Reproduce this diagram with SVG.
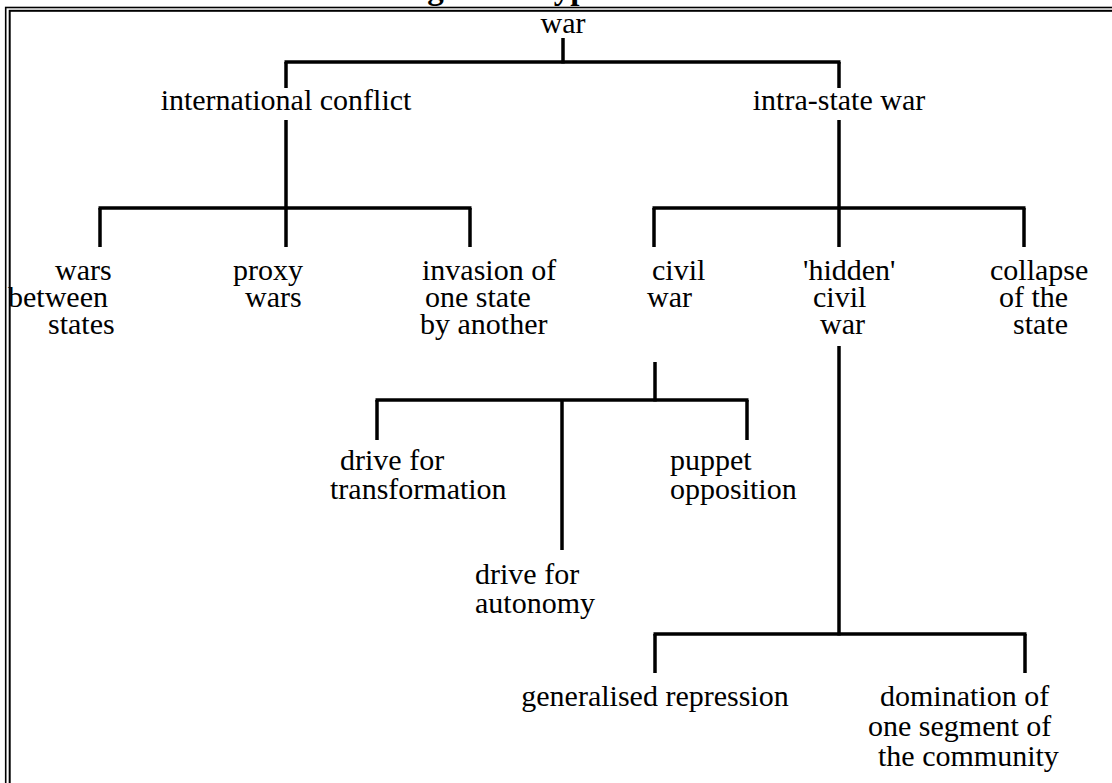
<svg xmlns="http://www.w3.org/2000/svg" width="1112" height="783" viewBox="0 0 1112 783">
<style>
text{font-family:"Liberation Serif","Times New Roman",serif;font-size:30px;fill:#000}
.title{font-weight:bold;font-size:33px}
.c{text-anchor:middle}
#connectors line{stroke:#000;stroke-width:3.5;stroke-linecap:butt}
.frame{fill:none;stroke:#000}
</style>
<rect width="1112" height="783" fill="#fff"/>
<text class="title" x="398" y="-1">Figure 1: Types of Conflict</text>
<rect class="frame" x="5.7" y="7.5" width="1200" height="900" stroke-width="1.6"/>
<rect class="frame" x="9.7" y="10.8" width="1200" height="900" stroke-width="2"/>
<g id="connectors">
<line x1="563" y1="38" x2="563" y2="63.5"/>
<line x1="284.5" y1="62" x2="840.5" y2="62"/>
<line x1="286" y1="62" x2="286" y2="88"/>
<line x1="839" y1="62" x2="839" y2="88"/>
<line x1="286" y1="120" x2="286" y2="208"/>
<line x1="98.5" y1="208" x2="471.5" y2="208"/>
<line x1="100" y1="208" x2="100" y2="247"/>
<line x1="286" y1="208" x2="286" y2="247"/>
<line x1="470" y1="208" x2="470" y2="247"/>
<line x1="839" y1="120" x2="839" y2="208"/>
<line x1="652.5" y1="208" x2="1025.5" y2="208"/>
<line x1="654" y1="208" x2="654" y2="247"/>
<line x1="839" y1="208" x2="839" y2="247"/>
<line x1="1024" y1="208" x2="1024" y2="247"/>
<line x1="655" y1="362" x2="655" y2="401.5"/>
<line x1="375.5" y1="400" x2="748.5" y2="400"/>
<line x1="377" y1="400" x2="377" y2="440"/>
<line x1="562" y1="400" x2="562" y2="550"/>
<line x1="747" y1="400" x2="747" y2="440"/>
<line x1="839" y1="346" x2="839" y2="635.5"/>
<line x1="653.5" y1="634" x2="1026.5" y2="634"/>
<line x1="655" y1="634" x2="655" y2="673"/>
<line x1="1025" y1="634" x2="1025" y2="673"/>
</g>
<g id="n-war"><text class="c" x="563" y="33">war</text></g>
<g id="n-international"><text class="c" x="286" y="110">international conflict</text></g>
<g id="n-intrastate"><text class="c" x="839" y="110">intra-state war</text></g>
<g id="n-wars-between"><text x="55" y="280">wars</text><text x="8" y="307">between</text><text x="48" y="334">states</text></g>
<g id="n-proxy"><text x="233" y="280">proxy</text><text x="245" y="307">wars</text></g>
<g id="n-invasion"><text x="422" y="280">invasion of</text><text x="425" y="307">one state</text><text x="420" y="334">by another</text></g>
<g id="n-civil"><text x="652" y="280">civil</text><text x="647" y="307">war</text></g>
<g id="n-hidden"><text x="803" y="280">'hidden'</text><text x="813" y="307">civil</text><text x="820" y="334">war</text></g>
<g id="n-collapse"><text x="990" y="280">collapse</text><text x="999" y="307">of the</text><text x="1013" y="334">state</text></g>
<g id="n-transformation"><text x="340" y="470">drive for</text><text x="330" y="499">transformation</text></g>
<g id="n-puppet"><text x="670" y="470">puppet</text><text x="670" y="499">opposition</text></g>
<g id="n-autonomy"><text x="475" y="584">drive for</text><text x="475" y="613">autonomy</text></g>
<g id="n-repression"><text class="c" x="655" y="706">generalised repression</text></g>
<g id="n-domination"><text x="880" y="706">domination of</text><text x="868" y="736">one segment of</text><text x="878" y="766">the community</text></g>
</svg>
